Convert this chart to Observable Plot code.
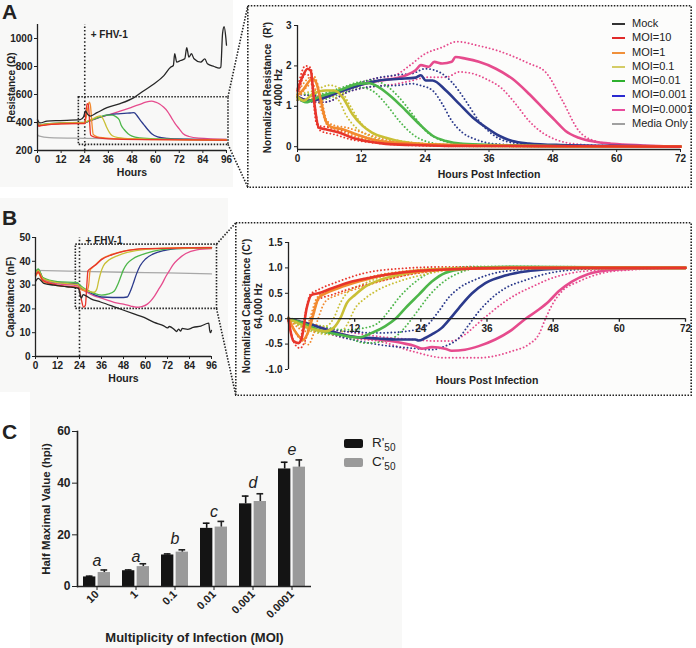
<!DOCTYPE html>
<html><head><meta charset="utf-8">
<script src="https://cdn.jsdelivr.net/npm/d3@7"></script>
<script src="https://cdn.jsdelivr.net/npm/@observablehq/plot@0.6"></script>
<style>
body{margin:0;background:#fff;}
#fig{position:relative;width:696px;height:648px;overflow:hidden;font-family:"Liberation Sans",Arial,Helvetica,sans-serif;color:#222;}
.pane{position:absolute;}
.bg{position:absolute;background:#f8f8f7;}
.boxbg{position:absolute;background:#fcfcfb;}
.letter{position:absolute;font-weight:bold;font-size:21px;line-height:1;}
.legend{position:absolute;font-size:11px;}
.legend .row{height:14.3px;line-height:14.3px;white-space:nowrap;}
.legend .sw{display:inline-block;width:13px;height:2px;vertical-align:middle;margin-right:7px;}
.clegend{position:absolute;font-size:13.5px;}
.clegend .row{height:19px;line-height:19px;white-space:nowrap;}
.clegend .sw{display:inline-block;width:19px;height:9px;border-radius:2px;vertical-align:middle;margin-right:9px;}
svg.overlay{position:absolute;left:0;top:0;pointer-events:none;}
</style></head>
<body><div id="fig"></div>
<script>
// ---------- categories / ticks ----------
const seriesNames = ["Mock","MOI=10","MOI=1","MOI=0.1","MOI=0.01","MOI=0.001","MOI=0.0001","Media Only"];
const seriesColors = ["#262626","#e8352b","#f28a2e","#c9bf35","#4db64a","#2b3a8c","#e64b8d","#a8a8a8"];
const legendColors = ["#333333","#e02a2a","#f0903a","#d4cc66","#2eb02e","#2a2ad0","#e84c9c","#a0a0a0"];
const moiNames = ["MOI=10","MOI=1","MOI=0.1","MOI=0.01","MOI=0.001","MOI=0.0001"];
const hourTicks = [0,12,24,36,48,60,72,84,96];
const hpiTicks = [0,12,24,36,48,60,72];
const resTicks = [200,400,600,800,1000];
const capTicks = [0,10,20,30,40,50];
const nResTicks = [0,1,2,3];
const nCapTicks = [-1,-0.5,0,0.5,1,1.5];
const halfTicks = [0,20,40,60];
const infectionHour = 24;
const zoomA = {x1:21, x2:97, y1:240, y2:580};
const zoomB = {x1:22, x2:99, y1:20, y2:47};

// ---------- A left: raw resistance (ohm) vs hours ----------
const resMock = [[0,422],[0.8,400],[1.4,397],[4.8,410],[11.6,414],[21.7,420],[23.4,440],[24.3,482],[25.5,458],[26.8,446],[30.2,470],[35.3,506],[42,535],[49,578],[54,627],[59.1,675],[64.2,735],[67.6,795],[69,807],[69.7,891],[70.7,831],[72.7,843],[74.8,855],[75.8,935],[76.9,867],[78.2,891],[79.5,855],[82.9,831],[85,855],[86.3,819],[89.7,800],[92.3,788],[93.1,795],[94,1036],[94.8,1084],[95.7,1000],[96,952]];
const resMedia = [[0,313],[1,302],[6,292],[24,287],[48,283],[72,281],[96,280]];
const resMoi10 = [[0,395],[0.6,375],[2,378],[6,385],[12,390],[23,393],[24,392],[24.6,470],[25.2,535],[25.8,530],[26.4,420],[27,310],[29,295],[33,287],[40,281],[60,277],[96,274]];
const resMoi1 = [[0,400],[0.6,378],[2,382],[6,388],[12,393],[23,396],[24,398],[25.5,500],[26.3,545],[26.9,520],[27.6,400],[28.3,315],[30,300],[34,290],[42,283],[60,278],[96,275]];
const resMoi01 = [[0,398],[0.6,378],[2,383],[6,390],[12,395],[23,398],[24,400],[26,415],[28,425],[30,440],[32,447],[33.5,420],[35,370],[36.5,330],[38,305],[41,292],[48,284],[72,278],[96,275]];
const resMoi001 = [[0,400],[0.6,380],[2,385],[6,392],[12,397],[23,400],[24,402],[28,420],[32,440],[35,452],[38,452],[40,440],[41.5,420],[42.5,380],[44,350],[46,320],[48,303],[52,290],[60,283],[96,276]];
const resMoi0001 = [[0,398],[0.6,378],[2,383],[6,390],[12,395],[23,398],[24,400],[28,420],[32,440],[36,455],[40,462],[44,465],[47,468],[49,470],[50.5,450],[52,420],[54,385],[56,350],[58,320],[61,298],[66,287],[76,281],[96,277]];
const resMoi00001 = [[0,396],[0.6,376],[2,381],[6,388],[12,393],[23,396],[24,398],[28,418],[32,438],[36,455],[40,472],[44,490],[48,510],[52,530],[55,545],[58,552],[60,545],[62,532],[64,510],[66,480],[68,435],[70,390],[72,355],[74,320],[77,300],[82,288],[96,280]];
const resMOI = [resMoi10,resMoi1,resMoi01,resMoi001,resMoi0001,resMoi00001];

// ---------- A right: normalized resistance R' vs hpi (mean, upper, lower) ----------
const nr10 = [[0,1.39],[1,1.75],[1.9,1.93],[2.5,1.88],[3.1,1.15],[4,0.47],[5.3,0.43],[7.8,0.35],[10.3,0.22],[12.8,0.14],[16.6,0.07],[21.6,0.04],[28,0.02],[40,0.015],[53,0.01],[72,0]];
const nr1 = [[0,1.27],[1,1.4],[2.8,1.68],[3.4,1.62],[4.4,1.14],[5.3,0.64],[6.3,0.49],[8.5,0.43],[11,0.31],[14,0.18],[18.5,0.1],[24.7,0.06],[34,0.03],[50,0.01],[72,0]];
const nr01 = [[0,1.23],[1.25,1.14],[2.8,1.3],[5.3,1.39],[6.9,1.39],[8.5,1.22],[10.3,0.81],[12.2,0.52],[14,0.35],[16.6,0.22],[19.7,0.12],[24.7,0.06],[34,0.02],[72,0]];
const nr001 = [[0,1.23],[1.6,1.1],[4,1.23],[7.8,1.39],[11.6,1.56],[13.5,1.57],[15.3,1.47],[17.8,1.22],[20.4,0.89],[22.9,0.56],[25.4,0.27],[27.9,0.14],[31,0.07],[37,0.04],[53,0.01],[72,0]];
const nr0001 = [[0,1.23],[2.2,1.14],[4.7,1.2],[7.8,1.35],[11.6,1.52],[15.3,1.64],[19.1,1.68],[22.2,1.71],[23.2,1.77],[24.1,1.64],[25.4,1.64],[27.9,1.39],[30.4,1.06],[32.9,0.73],[35.4,0.48],[37.9,0.27],[40.4,0.14],[43.5,0.08],[49.5,0.04],[59,0.02],[72,0]];
const nr00001 = [[0,1.23],[2.2,1.14],[4.7,1.2],[7.8,1.35],[11.6,1.52],[15.3,1.63],[18,1.68],[20.4,1.77],[22.2,1.89],[23.2,2.02],[24.7,1.98],[25.7,2.1],[27.2,2.06],[29,2.1],[29.7,2.22],[31.6,2.18],[34.1,2.1],[37.3,1.93],[40.4,1.68],[43.5,1.31],[46.6,0.89],[48.5,0.64],[50.4,0.39],[52.9,0.22],[56,0.12],[59.2,0.07],[65,0.03],[72,0]];
const nr10Hi = [[0,1.45],[1.5,2.0],[2.5,1.95],[3.3,1.0],[4,0.52],[6,0.48],[9,0.38],[12,0.26],[16,0.13],[22,0.06],[35,0.03],[72,0.01]];
const nr10Lo = [[0,1.2],[1.5,1.8],[2.5,1.7],[3.5,0.6],[4.5,0.38],[7,0.3],[10,0.18],[14,0.1],[20,0.04],[30,0.01],[72,0]];
const nr1Hi = [[0,1.35],[3,1.75],[4.5,1.2],[5.5,0.65],[7,0.52],[9,0.48],[12,0.36],[16,0.19],[22,0.09],[35,0.03],[72,0.01]];
const nr1Lo = [[0,1.15],[2.8,1.55],[4.5,0.9],[6,0.45],[8,0.38],[11,0.25],[15,0.12],[22,0.04],[35,0.01],[72,0]];
const nr01Hi = [[0,1.3],[3,1.38],[6,1.52],[7.8,1.45],[9.7,1.06],[11.6,0.64],[14,0.35],[17.2,0.2],[21.6,0.1],[28,0.04],[45,0.01],[72,0]];
const nr01Lo = [[0,1.15],[3,1.2],[6,1.27],[7.8,1.14],[9,0.81],[11,0.47],[13.5,0.27],[16.6,0.14],[21.6,0.05],[30,0.01],[72,0]];
const nr001Hi = [[0,1.3],[4,1.3],[8,1.45],[11.6,1.6],[14,1.64],[16.6,1.52],[19.1,1.22],[21.6,0.81],[24.1,0.39],[26.6,0.18],[30,0.08],[40,0.03],[72,0]];
const nr001Lo = [[0,1.15],[4,1.15],[8,1.3],[11.6,1.47],[14,1.39],[16.6,1.06],[19.1,0.64],[21.6,0.31],[24,0.14],[28,0.05],[40,0.01],[72,0]];
const nr0001Hi = [[0,1.3],[5,1.25],[10,1.5],[15,1.7],[19,1.78],[21.6,1.81],[24,1.93],[26.6,1.85],[29,1.6],[31.6,1.14],[34.1,0.64],[36.6,0.31],[39,0.14],[44,0.05],[60,0.01],[72,0]];
const nr0001Lo = [[0,1.15],[5,1.1],[10,1.38],[15,1.5],[19,1.52],[21.6,1.56],[23,1.52],[25.4,1.39],[27.2,1.06],[29,0.64],[31,0.35],[33.5,0.18],[37,0.07],[48,0.02],[72,0]];
const nr00001Hi = [[0,1.3],[5,1.25],[10,1.5],[15,1.7],[18,1.75],[21,2.0],[24,2.3],[27,2.45],[30,2.6],[34,2.5],[37.3,2.39],[43.5,2.06],[46.6,1.85],[49.8,1.14],[52.9,0.39],[56,0.14],[60,0.06],[66,0.02],[72,0]];
const nr00001Lo = [[0,1.15],[5,1.1],[10,1.38],[15,1.5],[18.5,1.55],[21,1.62],[24.7,1.72],[28,1.72],[30.4,1.85],[32.9,1.81],[35.4,1.68],[38.5,1.43],[41,1.06],[43.5,0.64],[46,0.35],[48.5,0.18],[52,0.07],[60,0.02],[72,0]];
const nrMean = [nr10,nr1,nr01,nr001,nr0001,nr00001];
const nrHi = [nr10Hi,nr1Hi,nr01Hi,nr001Hi,nr0001Hi,nr00001Hi];
const nrLo = [nr10Lo,nr1Lo,nr01Lo,nr001Lo,nr0001Lo,nr00001Lo];

// ---------- B left: raw capacitance (nF) vs hours ----------
const capMock = [[0,31.5],[1.5,32.8],[4.5,30.7],[10,30],[17,29.3],[23.5,28.6],[24.3,26],[25,24.5],[26,26],[27.5,25.5],[30,24.3],[35.5,22.9],[44.6,20.4],[53.7,17.9],[59.2,16.4],[64.7,14.3],[70,12.9],[72,12],[73,12.6],[75.6,11.4],[77,10.5],[78,11.5],[79.2,10.7],[80,11.8],[82.9,11.4],[86,12.2],[90.2,12.8],[94.5,14],[95,11],[95.5,10],[96,11]];
const capMedia = [[0,36.2],[24,35.8],[48,35.4],[72,35.1],[96,34.7]];
const capMoi10 = [[0,34],[1.5,35.5],[4,32],[12,30],[23,29],[24,28],[25,24],[26.2,20.8],[27.2,21.5],[28,30],[28.6,36],[30,37],[33,38.6],[36,40.7],[42,42.8],[48,44.2],[60,45.3],[80,45.6],[96,45.7]];
const capMoi1 = [[0,33.5],[1.5,35],[4,31.5],[12,29.8],[23,29],[24,28.5],[26,27.8],[28,27.5],[29,30],[29.8,36.3],[31,37.3],[33,38.8],[36,41],[42,43],[48,44.3],[60,45.3],[80,45.7],[96,45.8]];
const capMoi01 = [[0,34.8],[1.5,36.2],[4,32.8],[12,31],[23,30.2],[24,29.5],[27,28],[30,27.2],[32,27],[33.5,28.5],[34.5,32],[35.5,35],[37,38],[40,40.5],[44.6,42.3],[50,43.7],[60,45],[80,45.6],[96,45.7]];
const capMoi001 = [[0,35.5],[1.5,36.8],[4,33.2],[12,31.5],[23,31],[24,30.2],[28,28],[32,26.5],[36,25.8],[40,26.3],[43,27.5],[45,30.5],[46.5,33.5],[48,36.5],[50,39],[53,41],[57,42.5],[64,44.2],[75,45.3],[96,45.7]];
const capMoi0001 = [[0,35],[1.5,36.5],[4,33],[12,31],[23,30.5],[24,29.5],[28,27.5],[32,26],[36,25],[42,24.8],[48,24.8],[50,25],[51.5,27],[53,30],[55,34.5],[57,38],[60,41],[64,43],[70,44.5],[80,45.4],[96,45.7]];
const capMoi00001 = [[0,34.5],[1.5,36],[4,32.5],[12,30.5],[23,29.8],[24,29],[28,27],[32,25.5],[36,24.5],[40,23.5],[44,22.5],[48,22],[52,21.2],[55,20.7],[58,21],[61,22],[63,23.5],[65,25.5],[67,28],[69,30.5],[71,33.5],[73,36],[75,38.5],[78,41],[82,43.3],[88,44.8],[96,45.3]];
const capMOI = [capMoi10,capMoi1,capMoi01,capMoi001,capMoi0001,capMoi00001];

// ---------- B right: normalized capacitance C' vs hpi ----------
const nc10 = [[0,-0.02],[0.9,-0.44],[1.8,-0.48],[2.4,-0.38],[3.3,0.21],[4.2,0.47],[5.4,0.5],[7.9,0.6],[11.5,0.73],[16.3,0.84],[21.2,0.92],[28.4,0.97],[40.5,1.0],[72,1.0]];
const nc1 = [[0,0],[1.2,-0.25],[2.7,-0.41],[3.6,-0.25],[4.5,0.08],[5.4,0.4],[6.7,0.5],[9,0.6],[12.7,0.73],[17.5,0.86],[22.4,0.92],[28.4,0.97],[40.5,1.0],[72,1.0]];
const nc01 = [[0,0],[2.4,-0.12],[4.8,-0.22],[6.7,-0.25],[8.2,-0.18],[9.4,0.01],[10.6,0.31],[12.1,0.47],[13.9,0.63],[16.3,0.75],[19.9,0.86],[23.6,0.93],[28.4,0.98],[40.5,1.0],[72,1.0]];
const nc001 = [[0,0],[2.4,-0.08],[5.4,-0.22],[9,-0.31],[12.7,-0.37],[15.1,-0.28],[17.5,-0.15],[19.4,0],[21.2,0.21],[23.6,0.47],[26,0.73],[28.4,0.9],[32,0.98],[40.5,1.02],[72,1.0]];
const nc0001 = [[0,0],[4.2,-0.12],[7.9,-0.25],[11.5,-0.35],[16.3,-0.39],[19.9,-0.41],[23,-0.41],[23.6,-0.43],[24.8,-0.38],[26,-0.31],[27.8,-0.18],[29.3,0],[30.9,0.21],[33.3,0.5],[35.7,0.7],[39.3,0.85],[43,0.93],[47.8,0.98],[53,1.0],[72,1.0]];
const nc00001 = [[0,0],[4.2,-0.12],[7.9,-0.25],[11.5,-0.35],[16.3,-0.41],[20.6,-0.48],[23,-0.54],[24.2,-0.59],[26,-0.56],[28.4,-0.59],[29.6,-0.63],[32,-0.61],[34.5,-0.54],[37.5,-0.41],[40.5,-0.22],[43,0],[45.4,0.18],[47.2,0.34],[49,0.54],[51.4,0.73],[54.4,0.88],[58.7,0.96],[64.7,0.99],[72,1.0]];
const nc10Hi = [[0,0.03],[1.2,-0.25],[2.1,-0.38],[3,0.08],[3.9,0.47],[5.4,0.57],[9,0.73],[13.9,0.9],[19.4,0.98],[28.4,1.02],[72,1.0]];
const nc10Lo = [[0,-0.05],[1.2,-0.51],[2.1,-0.58],[3,-0.44],[4.2,0.01],[5.4,0.37],[7.9,0.47],[11.5,0.6],[16.3,0.73],[22.4,0.88],[28.4,0.96],[37.5,1.0],[72,1.0]];
const nc1Hi = [[0,0],[1.8,-0.18],[3,-0.25],[3.9,0.01],[5.1,0.4],[6.7,0.54],[10.3,0.67],[15.1,0.83],[21.2,0.94],[28.4,0.99],[72,1.0]];
const nc1Lo = [[0,-0.02],[2.1,-0.38],[3.6,-0.51],[4.5,-0.31],[5.4,0.01],[6.7,0.34],[9,0.47],[12.7,0.6],[17.5,0.76],[23.6,0.9],[31.4,0.98],[72,1.0]];
const nc01Hi = [[0,0.02],[4.2,-0.12],[6.7,-0.15],[8.2,0.01],[9.4,0.31],[10.9,0.54],[13.3,0.67],[16.3,0.8],[19.9,0.9],[26,0.98],[72,1.0]];
const nc01Lo = [[0,-0.02],[4.2,-0.25],[7.3,-0.31],[9.4,-0.28],[10.6,-0.12],[12.1,0.21],[13.9,0.4],[16.3,0.57],[19.9,0.73],[24.2,0.86],[29.6,0.96],[40,1.0],[72,1.0]];
const nc001Hi = [[0,0.02],[5,-0.12],[10.3,-0.22],[13.9,-0.18],[16.3,-0.08],[18.1,0.14],[20,0.41],[22.4,0.67],[24.8,0.86],[28.4,0.98],[34,1.03],[72,1.0]];
const nc001Lo = [[0,-0.02],[5,-0.25],[10.3,-0.35],[13.9,-0.48],[17.5,-0.44],[19.9,-0.31],[21.8,-0.08],[23.6,0.18],[25.4,0.44],[27.8,0.7],[30.9,0.9],[34.5,0.99],[72,1.0]];
const nc0001Hi = [[0,0.02],[5,-0.15],[10.3,-0.25],[16.3,-0.28],[21.2,-0.25],[24.8,-0.15],[27.2,0.14],[29,0.41],[30.9,0.6],[33.9,0.77],[37.5,0.9],[41.7,0.96],[46.6,0.99],[72,1.0]];
const nc0001Lo = [[0,-0.02],[5,-0.2],[10.3,-0.38],[16.3,-0.51],[22.4,-0.58],[26,-0.61],[28.4,-0.54],[30.9,-0.38],[32.7,-0.12],[34.5,0.14],[36.9,0.41],[39.3,0.6],[43,0.76],[46.6,0.88],[51.4,0.96],[58.5,0.99],[72,1.0]];
const nc00001Hi = [[0,0.02],[5,-0.15],[10.3,-0.25],[16.3,-0.35],[22.4,-0.41],[27.2,-0.44],[29.6,-0.44],[32,-0.31],[34.5,-0.08],[36.9,0.14],[39.3,0.34],[41.7,0.5],[44.2,0.63],[47.8,0.8],[51.4,0.9],[56.3,0.96],[64.6,1.0],[72,1.0]];
const nc00001Lo = [[0,-0.02],[5,-0.22],[10.3,-0.38],[16.3,-0.44],[22.4,-0.64],[28.4,-0.77],[34.5,-0.77],[40.5,-0.64],[43.5,-0.51],[45.4,-0.31],[46.6,0],[47.8,0.27],[49.6,0.54],[52.6,0.73],[56.3,0.88],[61.7,0.96],[72,1.0]];
const ncMean = [nc10,nc1,nc01,nc001,nc0001,nc00001];
const ncHi = [nc10Hi,nc1Hi,nc01Hi,nc001Hi,nc0001Hi,nc00001Hi];
const ncLo = [nc10Lo,nc1Lo,nc01Lo,nc001Lo,nc0001Lo,nc00001Lo];

// ---------- C: half maximal values ----------
const moiLabels = ["10","1","0.1","0.01","0.001","0.0001"];
const r50 = [3.7, 6.1, 12.2, 22.5, 32.0, 45.5];
const r50err = [0.3, 0.3, 0.4, 2.0, 3.0, 2.6];
const c50 = [5.4, 7.7, 13.3, 23.0, 32.9, 46.2];
const c50err = [1.0, 1.1, 0.9, 2.2, 3.0, 2.8];
const sigLetters = ["a","a","b","c","d","e"];
const sigY = [9.8, 11.6, 18.5, 28.8, 40, 52.9];

// ---------- helpers ----------
const fig = document.getElementById("fig");
const FONT = "Liberation Sans, Arial, Helvetica, sans-serif";
const baseStyle = {fontFamily: FONT, fontSize: "10px", fontWeight: "bold", background: "none", overflow: "visible", color: "#222"};
const colorScale = {domain: seriesNames, range: seriesColors};
const plain = d => String(d);
function toRows(series, pts, key) { return pts.map(p => ({series, key: key || series, t: p[0], v: p[1]})); }
const order = [5,4,3,2,1,0];
function addDiv(cls, box, html) {
  const d = document.createElement("div"); d.className = cls;
  d.style.left = box.left + "px"; d.style.top = box.top + "px";
  if (box.w != null) d.style.width = box.w + "px";
  if (box.h != null) d.style.height = box.h + "px";
  if (html != null) d.innerHTML = html;
  fig.appendChild(d); return d;
}
function place(svg, box) { const d = addDiv("pane", box); d.appendChild(svg); return d; }
const dots = {strokeDasharray: "0.01,3.6", strokeWidth: 1.9, strokeLinecap: "round"};
const yTitle = (txt, dx, size) => Plot.text([txt], {frameAnchor: "left", dx, rotate: -90, textAnchor: "middle", lineAnchor: "middle", fontSize: size, text: d => d});
const xTitle = (txt, dy, size) => Plot.text([txt], {frameAnchor: "bottom", dy, textAnchor: "middle", lineAnchor: "middle", fontSize: size, text: d => d});

const L = {
  aLeft: {left:0, top:0, w:240, h:185},
  aRight: {left:247, top:5, w:445, h:183},
  bLeft: {left:0, top:190, w:240, h:200},
  bRight: {left:235, top:222, w:457, h:174},
  c: {left:0, top:372, w:402, h:276}
};

// backgrounds
addDiv("bg", {left:0, top:0, w:233, h:187});
addDiv("bg", {left:0, top:198, w:228, h:194});
addDiv("bg", {left:30, top:373, w:372, h:275});
addDiv("boxbg", {left:L.aRight.left, top:L.aRight.top, w:L.aRight.w, h:L.aRight.h});
addDiv("boxbg", {left:L.bRight.left, top:L.bRight.top, w:L.bRight.w, h:L.bRight.h});

// ---------- A left ----------
const aLeftRows = [...toRows("Media Only", resMedia), ...order.flatMap(i => toRows(moiNames[i], resMOI[i])), ...toRows("Mock", resMock)];
const aLeft = Plot.plot({
  width: L.aLeft.w, height: L.aLeft.h, marginLeft: 37, marginRight: 14, marginTop: 24, marginBottom: 35,
  x: {domain: [0, 96]}, y: {domain: [200, 1100]}, color: colorScale, style: baseStyle,
  marks: [
    Plot.rect([zoomA], {x1: "x1", x2: "x2", y1: "y1", y2: "y2", fill: "none", stroke: "#222", strokeWidth: 1.6, strokeDasharray: "1.5,1.5"}),
    Plot.ruleX([infectionHour], {y1: 200, y2: 1100, stroke: "#222", strokeWidth: 1.6, strokeDasharray: "1.5,2.2"}),
    Plot.line(aLeftRows, {x: "t", y: "v", z: "key", stroke: "series", strokeWidth: 1.3, curve: "monotone-x"}),
    Plot.ruleX([0], {strokeWidth: 1.3}), Plot.ruleY([200], {strokeWidth: 1.3}),
    Plot.axisX({ticks: hourTicks, tickSize: 3, tickPadding: 2, label: null, tickFormat: plain}),
    Plot.axisY({ticks: resTicks, tickSize: 3, tickPadding: 2, label: null, tickFormat: plain}),
    Plot.text(["+ FHV-1"], {x: infectionHour, y: 1030, dx: 6, textAnchor: "start", text: d => d}),
    xTitle("Hours", 22, 10.5),
    yTitle("Resistance (\u03A9)", -26, 10)
  ]
});
place(aLeft, L.aLeft);

// ---------- A right ----------
const rAxisMin = -0.07;
const aRightDots = order.flatMap(i => [...toRows(moiNames[i], nrHi[i], moiNames[i] + " hi"), ...toRows(moiNames[i], nrLo[i], moiNames[i] + " lo")]);
const aRightRows = order.flatMap(i => toRows(moiNames[i], nrMean[i]));
const aRight = Plot.plot({
  width: L.aRight.w, height: L.aRight.h, marginLeft: 50, marginRight: 12, marginTop: 20, marginBottom: 39,
  x: {domain: [0, 72]}, y: {domain: [rAxisMin, 3]}, color: colorScale, style: baseStyle,
  marks: [
    Plot.line(aRightDots, {x: "t", y: "v", z: "key", stroke: "series", curve: "monotone-x", ...dots}),
    Plot.line(aRightRows, {x: "t", y: "v", z: "key", stroke: "series", strokeWidth: 2.6, curve: "monotone-x"}),
    Plot.ruleX([0], {strokeWidth: 1.3}), Plot.ruleY([rAxisMin], {strokeWidth: 1.3}),
    Plot.axisX({ticks: hpiTicks, tickSize: 3, tickPadding: 2, label: null, tickFormat: plain}),
    Plot.axisY({ticks: nResTicks, tickSize: 3, tickPadding: 3, label: null, tickFormat: plain}),
    xTitle("Hours Post Infection", 25, 10.5),
    yTitle("Normalized Resistance  (R')", -30, 10),
    yTitle("4000 Hz", -19, 10)
  ]
});
place(aRight, L.aRight);

// ---------- B left ----------
const bLeftRows = [...toRows("Media Only", capMedia), ...order.flatMap(i => toRows(moiNames[i], capMOI[i])), ...toRows("Mock", capMock)];
const bLeft = Plot.plot({
  width: L.bLeft.w, height: L.bLeft.h, marginLeft: 35, marginRight: 29, marginTop: 47, marginBottom: 34,
  x: {domain: [0, 96]}, y: {domain: [0, 50]}, color: colorScale, style: baseStyle,
  marks: [
    Plot.rect([zoomB], {x1: "x1", x2: "x2", y1: "y1", y2: "y2", fill: "none", stroke: "#222", strokeWidth: 1.6, strokeDasharray: "1.5,1.5"}),
    Plot.ruleX([infectionHour], {y1: 0, y2: 50, stroke: "#222", strokeWidth: 1.6, strokeDasharray: "1.5,2.2"}),
    Plot.line(bLeftRows, {x: "t", y: "v", z: "key", stroke: "series", strokeWidth: 1.3, curve: "monotone-x"}),
    Plot.ruleX([0], {strokeWidth: 1.3}), Plot.ruleY([0], {strokeWidth: 1.3}),
    Plot.axisX({ticks: hourTicks, tickSize: 3, tickPadding: 2, label: null, tickFormat: plain}),
    Plot.axisY({ticks: capTicks, tickSize: 3, tickPadding: 2, label: null, tickFormat: plain}),
    Plot.text(["+ FHV-1"], {x: infectionHour, y: 48.5, dx: 6, textAnchor: "start", text: d => d}),
    xTitle("Hours", 22, 10.5),
    yTitle("Capacitance (nF)", -25, 10)
  ]
});
place(bLeft, L.bLeft);

// ---------- B right ----------
const bRightDots = order.flatMap(i => [...toRows(moiNames[i], ncHi[i], moiNames[i] + " hi"), ...toRows(moiNames[i], ncLo[i], moiNames[i] + " lo")]);
const bRightRows = order.flatMap(i => toRows(moiNames[i], ncMean[i]));
const bRight = Plot.plot({
  width: L.bRight.w, height: L.bRight.h, marginLeft: 53, marginRight: 7, marginTop: 20, marginBottom: 27,
  x: {domain: [0, 72], axis: null}, y: {domain: [-1, 1.5]}, color: colorScale, style: baseStyle,
  marks: [
    Plot.line(bRightDots, {x: "t", y: "v", z: "key", stroke: "series", curve: "monotone-x", ...dots}),
    Plot.line(bRightRows, {x: "t", y: "v", z: "key", stroke: "series", strokeWidth: 2.6, curve: "monotone-x"}),
    Plot.ruleX([0], {strokeWidth: 1.3}), Plot.ruleY([0], {strokeWidth: 1.3}),
    Plot.ruleX(hpiTicks, {x: d => d, y1: 0, y2: -0.07, strokeWidth: 1.3}),
    Plot.text(hpiTicks.filter(d => d > 0), {x: d => d, y: 0, dy: 10, text: plain}),
    Plot.axisY({ticks: nCapTicks, tickSize: 3, tickPadding: 3, label: null, tickFormat: d => d.toFixed(1)}),
    xTitle("Hours Post Infection", 11, 10.5),
    yTitle("Normalized Capacitance (C')", -42, 10),
    yTitle("64,000 Hz", -30, 10)
  ]
});
place(bRight, L.bRight);

// ---------- C ----------
const cRange = [77, L.c.w - 91];
const cPad = {paddingInner: 0.3, paddingOuter: 0.15};
const bw = d3.scaleBand(moiLabels, cRange).paddingInner(cPad.paddingInner).paddingOuter(cPad.paddingOuter).bandwidth();
const rRows = moiLabels.map((m, i) => ({moi: m, value: r50[i], err: r50err[i]}));
const cRows = moiLabels.map((m, i) => ({moi: m, value: c50[i], err: c50err[i]}));
const letterRows = moiLabels.map((m, i) => ({moi: m, letter: sigLetters[i], y: sigY[i]}));
const barOff = bw / 4 + 0.5, capW = 7;
const cPlot = Plot.plot({
  width: L.c.w, height: L.c.h, marginLeft: 77, marginRight: 91, marginTop: 59, marginBottom: 62,
  x: {domain: moiLabels, ...cPad}, y: {domain: [0, 60]}, style: {...baseStyle, fontSize: "11px"},
  marks: [
    Plot.barY(rRows, {x: "moi", y: "value", fill: "#141414", insetRight: bw / 2 + 1}),
    Plot.barY(cRows, {x: "moi", y: "value", fill: "#9a9a9a", insetLeft: bw / 2 + 1}),
    Plot.ruleX(rRows, {x: "moi", y1: "value", y2: d => d.value + d.err, dx: -barOff, stroke: "#141414", strokeWidth: 1.6}),
    Plot.tickY(rRows, {x: "moi", y: d => d.value + d.err, dx: -barOff, insetLeft: (bw - capW) / 2, insetRight: (bw - capW) / 2, stroke: "#141414", strokeWidth: 1.6}),
    Plot.ruleX(cRows, {x: "moi", y1: "value", y2: d => d.value + d.err, dx: barOff, stroke: "#222", strokeWidth: 1.6}),
    Plot.tickY(cRows, {x: "moi", y: d => d.value + d.err, dx: barOff, insetLeft: (bw - capW) / 2, insetRight: (bw - capW) / 2, stroke: "#222", strokeWidth: 1.6}),
    Plot.text(letterRows, {x: "moi", y: "y", text: "letter", fontStyle: "italic", fontWeight: "normal", fontSize: 16}),
    Plot.frame({anchor: "left", strokeWidth: 1.6}),
    Plot.ruleY([0], {strokeWidth: 1.6}),
    Plot.axisX({tickRotate: -45, tickSize: 4, tickPadding: 2, label: null, fontSize: 11}),
    Plot.axisY({ticks: halfTicks, tickSize: 5, tickPadding: 2, label: null, fontSize: 12, tickFormat: plain}),
    xTitle("Multiplicity of Infection (MOI)", 51, 13),
    yTitle("Half Maximal Value (hpi)", -31, 11.5)
  ]
});
place(cPlot, L.c);

// ---------- legends ----------
const lg = addDiv("legend", {left: 612, top: 16});
lg.innerHTML = seriesNames.map((n, i) => `<div class="row"><span class="sw" style="background:${legendColors[i]}"></span>${n}</div>`).join("");
const clg = addDiv("clegend", {left: 344, top: 433});
clg.innerHTML = `<div class="row"><span class="sw" style="background:#141414"></span>R'<sub style="font-size:10px">50</sub></div>` +
  `<div class="row"><span class="sw" style="background:#9a9a9a"></span>C'<sub style="font-size:10px">50</sub></div>`;

// ---------- letters ----------
addDiv("letter", {left: 2, top: 1}, "A");
addDiv("letter", {left: 2, top: 207}, "B");
addDiv("letter", {left: 2, top: 421}, "C");

// ---------- overlay: zoom boxes and connectors ----------
const ns = "http://www.w3.org/2000/svg";
const ov = document.createElementNS(ns, "svg");
ov.setAttribute("class", "overlay"); ov.setAttribute("width", 696); ov.setAttribute("height", 648);
function el(tag, attrs) { const e = document.createElementNS(ns, tag); for (const k in attrs) e.setAttribute(k, attrs[k]); ov.appendChild(e); return e; }
const dotAttr = {fill: "none", stroke: "#222", "stroke-width": 1.6, "stroke-dasharray": "1.5,1.5"};
for (const b of [L.aRight, L.bRight]) el("rect", {x: b.left + 0.8, y: b.top + 0.8, width: b.w - 1.6, height: b.h - 1.6, ...dotAttr});
function connect(plot, box, zoom, target) {
  const sx = plot.scale("x"), sy = plot.scale("y");
  const x = box.left + sx.apply(zoom.x2);
  const yTop = box.top + sy.apply(zoom.y2), yBot = box.top + sy.apply(zoom.y1);
  el("line", {x1: x, y1: yTop, x2: target.left + 0.8, y2: target.top + 0.8, ...dotAttr});
  el("line", {x1: x, y1: yBot, x2: target.left + 0.8, y2: target.top + target.h - 0.8, ...dotAttr});
}
connect(aLeft, L.aLeft, zoomA, L.aRight);
connect(bLeft, L.bLeft, zoomB, L.bRight);
fig.appendChild(ov);
</script></body></html>
